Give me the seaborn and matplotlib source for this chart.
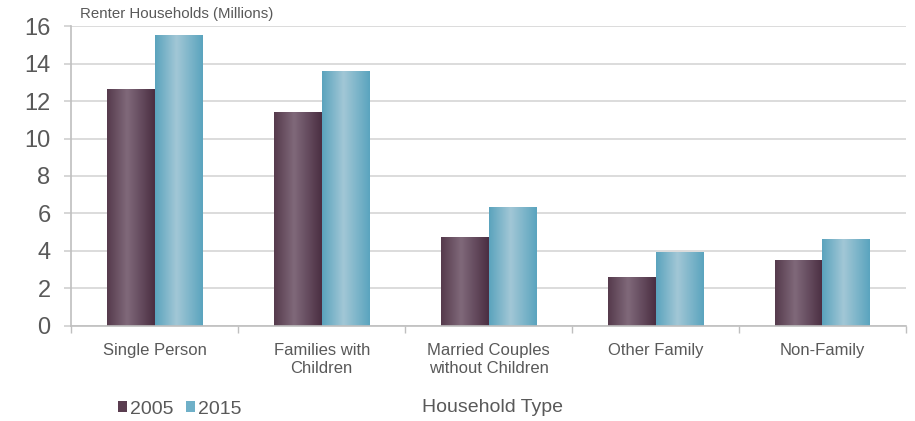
import numpy as np
import pandas as pd
import matplotlib
matplotlib.use("Agg")
import matplotlib.pyplot as plt
import seaborn as sns
from matplotlib.colors import LinearSegmentedColormap
from matplotlib.patches import Patch

# Renter households by type, millions
categories = ["Single Person", "Families with\nChildren", "Married Couples\nwithout Children",
              "Other Family", "Non-Family"]
years = ["2005", "2015"]
values_2005 = [12.6, 11.4, 4.7, 2.6, 3.5]
values_2015 = [15.5, 13.6, 6.3, 3.9, 4.6]
y_ticks = [0, 2, 4, 6, 8, 10, 12, 14, 16]

df = pd.DataFrame({
    "Household Type": categories * 2,
    "Year": [years[0]] * len(categories) + [years[1]] * len(categories),
    "Renters": values_2005 + values_2015,
})

sns.set_style("white")
plt.rcParams["font.family"] = ["Liberation Sans", "DejaVu Sans"]

text_grey = "#595959"
base_colors = {"2005": "#654759", "2015": "#7db5c9"}
gradients = {
    "2005": LinearSegmentedColormap.from_list(
        "g2005", [(0, "#553a4c"), (0.42, "#80697a"), (1, "#4a2e42")]),
    "2015": LinearSegmentedColormap.from_list(
        "g2015", [(0, "#5aa3bd"), (0.45, "#a2c7d6"), (1, "#5aa4be")]),
}

fig = plt.figure(figsize=(9.15, 4.21), dpi=100)
ax = fig.add_axes([0.078, 0.226, 0.912, 0.712])

sns.barplot(data=df, x="Household Type", y="Renters", hue="Year",
            palette=base_colors, width=0.57, gap=0, errorbar=None,
            legend=False, ax=ax)

# Cylinder-like shading on every bar
ramp = np.linspace(0, 1, 256).reshape(1, -1)
for container, year in zip(ax.containers, years):
    for bar in container:
        x0, y0 = bar.get_x(), bar.get_y()
        w, h = bar.get_width(), bar.get_height()
        ax.imshow(ramp, extent=[x0, x0 + w, y0, y0 + h], aspect="auto",
                  cmap=gradients[year], interpolation="bicubic", zorder=2)
        bar.set_facecolor("none")
        bar.set_edgecolor("none")

ax.set_xlim(-0.5, len(categories) - 0.5)
ax.set_ylim(0, 16)
ax.set_yticks(y_ticks)
ax.set_yticklabels([str(t) for t in y_ticks])

ax.yaxis.grid(True, color="#d9d9d9", linewidth=1.3, zorder=0)
ax.set_axisbelow(True)

for side in ("top", "right"):
    ax.spines[side].set_visible(False)
for side in ("left", "bottom"):
    ax.spines[side].set_color("#bfbfbf")
    ax.spines[side].set_linewidth(1.2)

ax.tick_params(axis="y", colors="#d0d0d0", labelcolor=text_grey,
               labelsize=17, length=5, width=1.2, direction="out", pad=10, left=True)
ax.tick_params(axis="x", which="major", length=0, labelcolor=text_grey,
               labelsize=12, pad=12)
ax.set_xticks(np.arange(-0.5, len(categories) + 0.5, 1), minor=True)
ax.tick_params(axis="x", which="minor", length=5, width=1, color="#bfbfbf",
               direction="out", bottom=True)
for lbl in ax.get_xticklabels():
    lbl.set_horizontalalignment("center")
    lbl.set_multialignment("center")
    lbl.set_linespacing(1.3)

ax.set_xlabel("")
ax.set_ylabel("")

fig.text(80 / 915, 1 - 14 / 421, "Renter Households (Millions)", fontsize=10.8,
         color=text_grey, va="center", ha="left")
fig.text(493 / 915, 1 - 407 / 421, "Household Type", fontsize=14,
         color=text_grey, va="center", ha="center")

handles = [Patch(facecolor="#5a3d50", edgecolor="none"),
           Patch(facecolor="#6fb0c8", edgecolor="none")]
fig.legend(handles, years, loc="center left", bbox_to_anchor=(108 / 915, 1 - 409 / 421),
           ncol=2, frameon=False, fontsize=14, handlelength=0.5, handleheight=0.5,
           handletextpad=0.15, columnspacing=0.6, labelcolor=text_grey, borderpad=0)

fig.savefig("out.png", dpi=100)
